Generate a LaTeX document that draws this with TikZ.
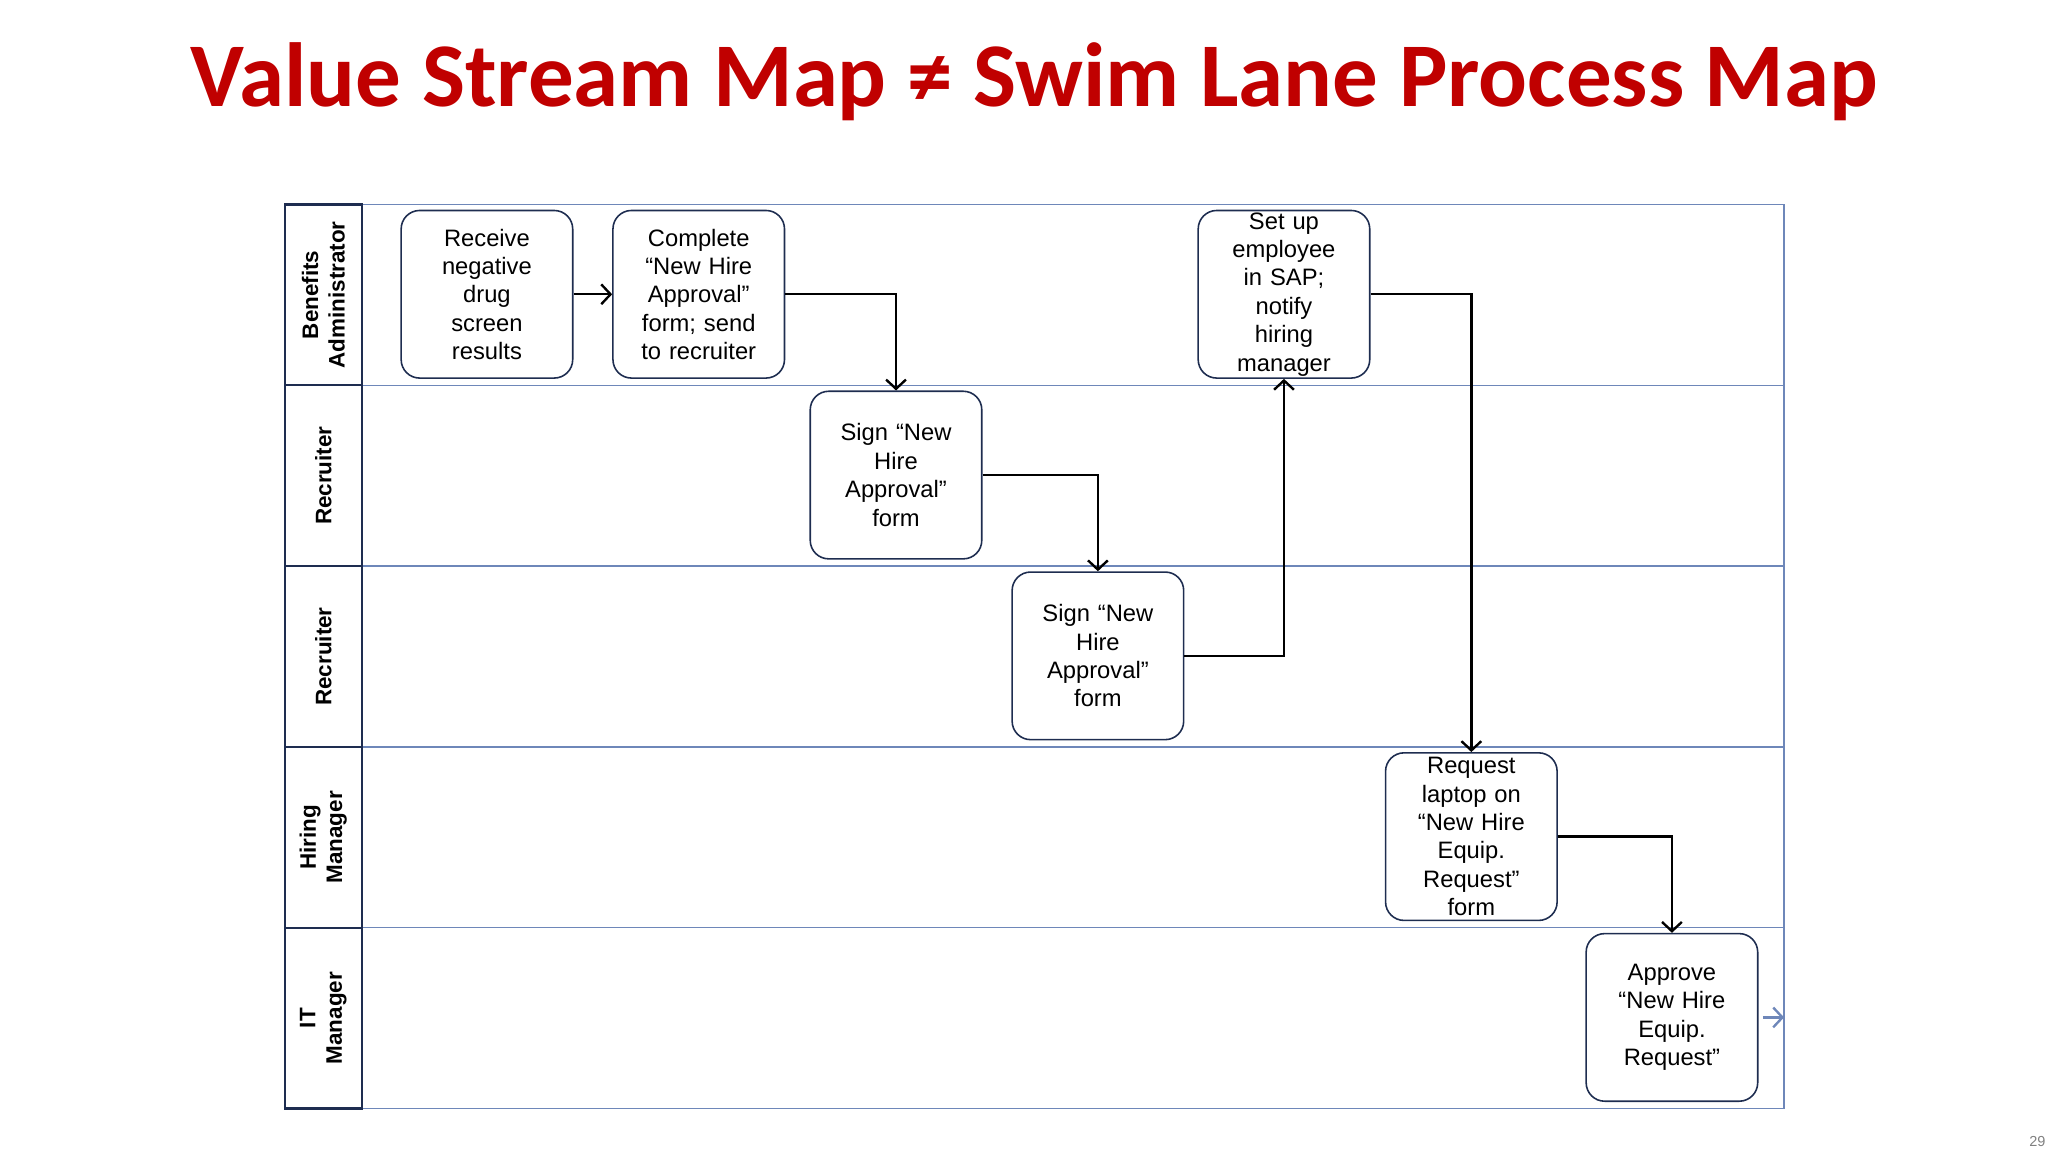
\documentclass[tikz,border=0pt]{standalone}
\usepackage{fontspec}
\setmainfont{Liberation Sans}
\newfontfamily\titlefont{Carlito}
\usetikzlibrary{arrows.meta}
\definecolor{titlered}{RGB}{192,0,0}
\definecolor{lane}{RGB}{110,135,185}
\definecolor{navy}{RGB}{30,45,80}
\begin{document}
\begin{tikzpicture}[x=1pt,y=-1pt,
  pstep/.style={draw=navy,line width=1.2pt,rounded corners=14pt,minimum width=130pt,minimum height=127pt,align=center,text width=124pt,font=\fontsize{18}{21.5}\selectfont,inner sep=0pt},
  hdr/.style={draw=navy,line width=1.6pt},
  lbl/.style={rotate=90,align=center,font=\bfseries\fontsize{17}{20}\selectfont},
  flow/.style={line width=1.8pt,-{Straight Barb[length=7pt,width=15pt,line width=1.8pt]}}]
\useasboundingbox (0,0) rectangle (1552,873);
\node[font=\titlefont\bfseries\fontsize{69}{77}\selectfont,text=titlered] (title) at (784,62) {Value Stream Map ≠ Swim Lane Process Map};
% lanes
\draw[lane,line width=1.2pt] (216,155) rectangle (1352,840);
\foreach \y in {292,429,566,703} \draw[lane,line width=1.2pt] (274,\y) -- (1352,\y);
\foreach \a/\b in {155/292,292/429,429/566,566/703,703/840} \draw[hdr] (216,\a) rectangle (274,\b);
\node[lbl] (l1) at (245,223.5) {Benefits\\Administrator};
\node[lbl] (l2) at (245,360.5) {Recruiter};
\node[lbl] (l3) at (245,497.5) {Recruiter};
\node[lbl] (l4) at (245,634.5) {Hiring\\Manager};
\node[lbl] (l5) at (245,771.5) {IT\\Manager};
% steps
\node[pstep] (A) at (369,223) {Receive\\negative\\drug\\screen\\results};
\node[pstep] (B) at (529.5,223) {Complete\\“New Hire\\Approval”\\form; send\\to recruiter};
\node[pstep] (C) at (973,223) {Set up\\employee\\in SAP;\\notify\\hiring\\manager};
\node[pstep] (D) at (679,360) {Sign “New\\Hire\\Approval”\\form};
\node[pstep] (E) at (832,497) {Sign “New\\Hire\\Approval”\\form};
\node[pstep] (F) at (1115,634) {Request\\laptop on\\“New Hire\\Equip.\\Request”\\form};
\node[pstep] (G) at (1267,771) {Approve\\“New Hire\\Equip.\\Request”};
\coordinate (out) at (1352,771);
% flows
\draw[flow] (A) -- (B);
\draw[flow] (B.east) -| (D.north);
\draw[flow] (D.east) -| (E.north);
\draw[flow] (E.east) -| (C.south);
\draw[flow] (C.east) -| (F.north);
\draw[flow] (F.east) -| (G.north);
\draw[lane,line width=1.8pt,-{Straight Barb[length=7pt,width=15pt,line width=1.8pt]}] (1336,771) -- (out);
\node[text=gray,font=\fontsize{11}{13}\selectfont] (pg) at (1544,865) {29};
\end{tikzpicture}
\end{document}
